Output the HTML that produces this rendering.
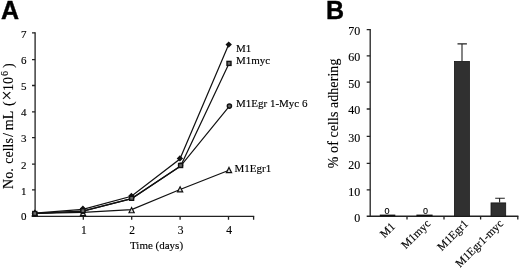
<!DOCTYPE html>
<html><head><meta charset="utf-8">
<style>
html,body{margin:0;padding:0;background:#fff;}
svg{display:block;}
text{font-family:"Liberation Serif",serif;fill:#000;stroke:#000;stroke-width:0.14px;}
.b{font-family:"Liberation Sans",sans-serif;font-weight:bold;font-size:25px;fill:#000;stroke:#000;stroke-width:0.4px;}

.s{font-size:11px;}
.ax{stroke:#222;stroke-width:1.3;fill:none;}
.ln{stroke:#111;stroke-width:1.2;fill:none;}
</style></head><body>
<svg width="520" height="272" viewBox="0 0 520 272">
<rect width="520" height="272" fill="#fff"/>
<!-- Panel A -->
<text class="b" x="1.0" y="18.8">A</text>
<g class="ax">
<path d="M35.1 32.3V216.35H254.2M32 216.35H35"/>
<path d="M32 189.90H35.1M32 164.20H35.1M32 137.70H35.1M32 111.80H35.1M32 85.50H35.1M32 59.60H35.1M32 32.90H35.1"/>
<path d="M83.30 216.35V219.8M131.70 216.35V219.8M180.10 216.35V219.8M228.50 216.35V219.8M253.60 216.35V219.8"/>
</g>
<g class="t" text-anchor="end" font-size="11">
<text x="26.6" y="37.60">7</text><text x="26.6" y="63.70">6</text><text x="26.6" y="89.70">5</text><text x="26.6" y="116.30">4</text><text x="26.6" y="141.90">3</text><text x="26.6" y="168.50">2</text><text x="26.6" y="194.60">1</text><text x="26.6" y="220.40">0</text>
</g>
<g class="t" text-anchor="middle" font-size="11.5">
<text x="83.80" y="233.5">1</text><text x="132.20" y="233.5">2</text><text x="180.60" y="233.5">3</text><text x="229.00" y="233.5">4</text>
</g>
<text class="s" x="130" y="248.6">Time (days)</text>
<text transform="translate(12.8,188.3) rotate(-90)" font-size="14"><tspan x="-0.6">No.</tspan><tspan x="24.5">cells</tspan><tspan x="51.4">/</tspan><tspan x="58.1">mL</tspan><tspan x="82.2">(</tspan><tspan x="87.8" font-size="18" dy="0.6">×</tspan><tspan x="97.4" dy="-0.6">10</tspan><tspan x="112.4" dy="-5" font-size="10">6</tspan><tspan x="120.4" dy="5">)</tspan></text>
<!-- lines -->
<g class="ln">
<polyline points="34.80,213.40 83.00,212.30 131.60,209.60 180.10,189.50 229.00,170.20"/>
<polyline points="34.80,213.50 82.90,211.20 131.60,198.60 180.60,166.10 229.40,106.10"/>
<polyline points="34.80,213.20 82.90,209.40 131.40,196.30 179.90,159.00 228.70,44.60"/>
<polyline points="34.80,213.50 82.90,211.20 131.60,198.60 180.60,166.00 229.00,63.40"/>
</g>
<!-- markers -->
<g fill="#e0e0e0" stroke="#111" stroke-width="1.2">
<path d="M34.80 210.7l2.6 5.2h-5.2zM83.00 210.5l2.6 5.2h-5.2zM131.60 207.54l2.6 5.2h-5.2zM180.10 186.74l2.6 5.2h-5.2zM229.00 167.44l2.6 5.2h-5.2z"/>
</g>
<g fill="#666" stroke="#111" stroke-width="1.4">
<circle cx="34.80" cy="213.50" r="2"/><circle cx="82.90" cy="211.20" r="2"/><circle cx="131.60" cy="198.00" r="2"/><circle cx="180.60" cy="165.20" r="2"/><circle cx="229.40" cy="106.10" r="2.1"/>
</g>
<g fill="#111">
<path d="M34.80 210.10l3.2 3.2-3.2 3.2-3.2-3.2zM82.90 205.60l3.2 3.2-3.2 3.2-3.2-3.2zM131.40 192.80l3.2 3.2-3.2 3.2-3.2-3.2zM179.90 155.20l3.2 3.2-3.2 3.2-3.2-3.2zM228.70 41.40l3.2 3.2-3.2 3.2-3.2-3.2z"/>
</g>
<g fill="#6a6a6a" stroke="#111" stroke-width="1.4">
<rect x="32.80" y="211.50" width="4" height="4"/><rect x="80.90" y="208.70" width="4" height="4"/><rect x="129.60" y="196.30" width="4" height="4"/><rect x="178.60" y="163.50" width="4" height="4"/><rect x="227.00" y="61.40" width="4" height="4"/>
</g>
<g class="s">
<text x="235.9" y="52.3">M1</text>
<text x="235.9" y="64.4">M1myc</text>
<text x="236" y="106.7">M1Egr 1-Myc 6</text>
<text x="234.5" y="172">M1Egr1</text>
</g>
<!-- Panel B -->
<text class="b" x="326.1" y="18.7">B</text>
<g class="ax">
<path d="M370.2 29.05V216.25"/>
<path d="M366.7 216.25H518.4"/>
<path d="M366.7 189.80H370.2M366.7 163.40H370.2M366.7 136.40H370.2M366.7 109.00H370.2M366.7 82.20H370.2M366.7 55.90H370.2M366.7 29.65H370.2"/>
<path d="M407.00 216.25V219.6M444.00 216.25V219.6M480.60 216.25V219.6M517.80 216.25V219.6"/>
</g>
<g class="t" text-anchor="end" font-size="12">
<text x="360.2" y="34.70">70</text>
<text x="360.2" y="61.30">60</text>
<text x="360.2" y="87.70">50</text>
<text x="360.2" y="114.30">40</text>
<text x="360.2" y="142.30">30</text>
<text x="360.2" y="168.70">20</text>
<text x="360.2" y="195.50">10</text>
<text x="360.2" y="221.50">0</text>
</g>
<text transform="translate(338.3,168.2) rotate(-90)" font-size="14" textLength="109.6">% of cells adhering</text>
<g fill="#303030" stroke="#151515" stroke-width="0.8">
<rect x="454.4" y="61.4" width="15" height="154.8"/>
<rect x="491" y="202.9" width="14.7" height="13.3"/>
</g>
<g fill="#111">
<rect x="379.8" y="214.6" width="15.5" height="1.7"/>
<rect x="416.4" y="214.6" width="16.2" height="1.7"/>
</g>
<g stroke="#222" stroke-width="1.1" fill="none">
<path d="M462 43.9V61M457.5 43.9H466.9"/>
<path d="M499.6 198.3V202.5M495.2 198.3H504.8"/>
</g>
<g font-size="9" text-anchor="middle">
<text x="387.1" y="213.6" style="font-family:'Liberation Sans',sans-serif">0</text>
<text x="425.5" y="213.6" style="font-family:'Liberation Sans',sans-serif">0</text>
</g>
<g font-size="11.5" text-anchor="end">
<text transform="translate(395.9,227.1) rotate(-45)">M1</text>
<text transform="translate(431.1,224.2) rotate(-45)">M1myc</text>
<text transform="translate(468.8,224.4) rotate(-45)">M1Egr1</text>
<text transform="translate(503.8,224.2) rotate(-45)">M1Egr1-myc</text>
</g>
</svg>
</body></html>
